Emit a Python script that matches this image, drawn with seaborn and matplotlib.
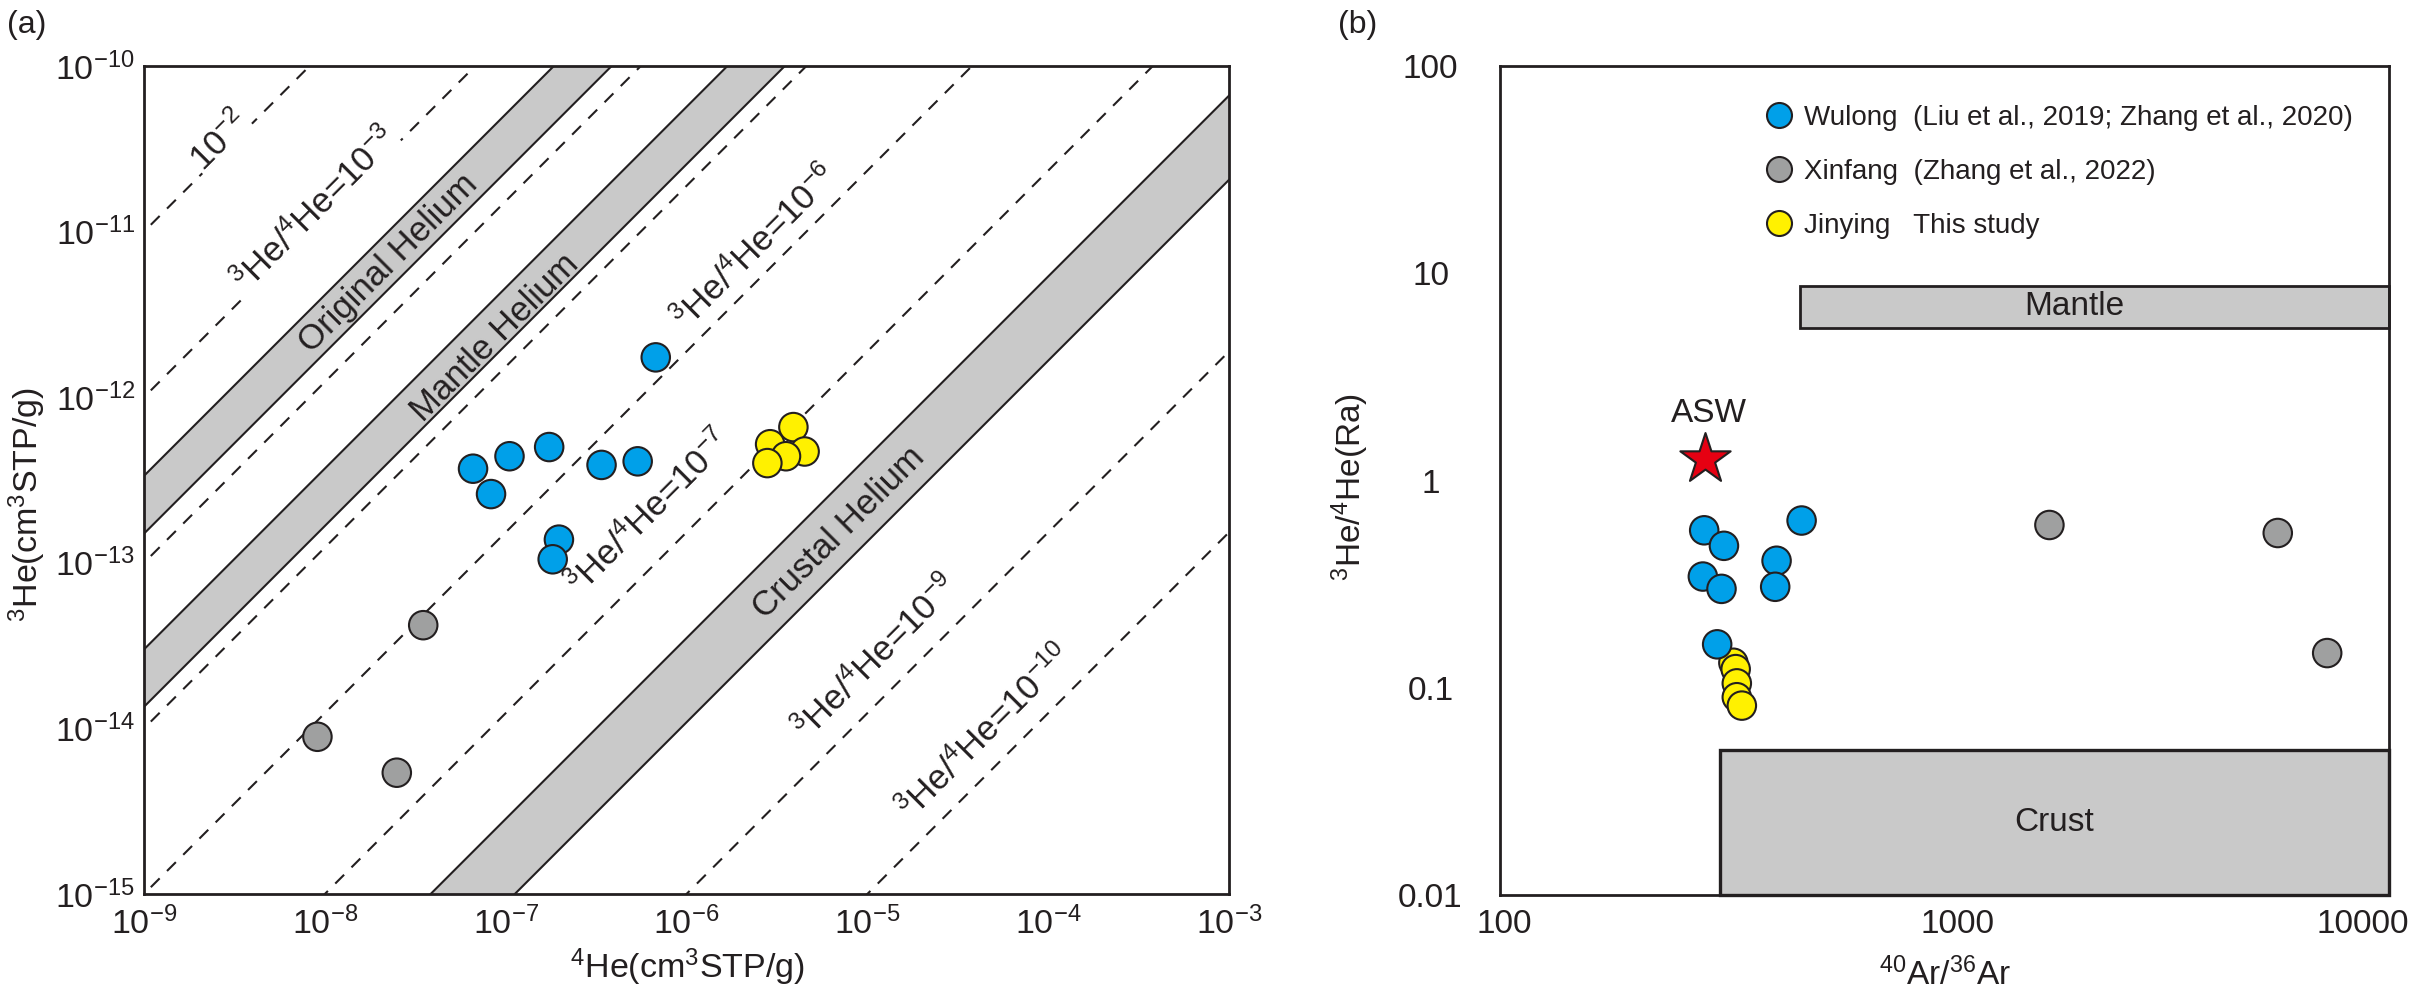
import numpy as np
import pandas as pd
import matplotlib
matplotlib.use("Agg")
import matplotlib.pyplot as plt
import seaborn as sns
from matplotlib.lines import Line2D
from matplotlib.patches import Rectangle
from matplotlib.transforms import ScaledTranslation
from matplotlib.ticker import (LogLocator, LogFormatterSciNotation, NullLocator,
                               FixedLocator, FixedFormatter)

# ---------------- data ----------------
# panel (a): 4He and 3He contents (cm3 STP/g)
wulong_he4 = [6.76e-7, 6.6e-8, 1.05e-7, 1.74e-7, 3.39e-7, 5.37e-7, 8.3e-8, 1.97e-7, 1.82e-7]
wulong_he3 = [1.74e-12, 3.7e-13, 4.4e-13, 5.0e-13, 3.9e-13, 4.1e-13, 2.6e-13, 1.38e-13, 1.05e-13]
xinfang_he4 = [3.5e-8, 9.1e-9, 2.5e-8]
xinfang_he3 = [4.2e-14, 8.9e-15, 5.4e-15]
jinying_he4 = [3.9e-6, 2.9e-6, 4.5e-6, 3.55e-6, 2.8e-6]
jinying_he3 = [6.6e-13, 5.2e-13, 4.7e-13, 4.4e-13, 4.0e-13]

# reference 3He/4He ratio lines and bands
dashed_ratios = [1e-2, 1e-3, 1e-4, 1e-5, 1e-6, 1e-7, 1e-9, 1e-10]
band_original = [1.5e-4, 3.35e-4]
band_mantle = [1.35e-5, 3.0e-5]
band_crustal = [8.9e-9, 2.6e-8]

# panel (b): 40Ar/36Ar and 3He/4He (Ra)
wulong_ar = [288, 319, 286, 315, 419, 416, 477, 308]
wulong_ra = [0.575, 0.484, 0.344, 0.30, 0.41, 0.307, 0.641, 0.162]
xinfang_ar = [1722, 5620, 7260]
xinfang_ra = [0.61, 0.558, 0.147]
jinying_ar = [335, 339, 341, 341, 350]
jinying_ra = [0.132, 0.123, 0.105, 0.090, 0.082]
asw_ar, asw_ra = [289], [1.27]
mantle_ar = [473, 10000]
mantle_ra = [5.46, 8.7]
crust_ar = [313, 10000]
crust_ra = [0.01, 0.05]

palette = {"Wulong": "#00a0e9", "Xinfang": "#9fa0a0", "Jinying": "#fff100"}
legend_order = ["Wulong", "Xinfang", "Jinying"]
legend_labels = ["Wulong  (Liu et al., 2019; Zhang et al., 2020)",
                 "Xinfang  (Zhang et al., 2022)",
                 "Jinying   This study"]

xa_ticks = [1e-9, 1e-8, 1e-7, 1e-6, 1e-5, 1e-4, 1e-3]
yb_ticks = [0.01, 0.1, 1, 10, 100]
yb_labels = ["0.01", "0.1", "1", "10", "100"]
xb_ticks = [100, 1000, 10000]
xb_labels = ["100", "1000", "10000"]
xb_label_shift_px = [4, 13, -26]   # label nudges as in the original layout

# ---------------- style ----------------
sns.set_style("white")
plt.rcParams["font.family"] = ["Liberation Sans", "DejaVu Sans"]
plt.rcParams["mathtext.fontset"] = "custom"
plt.rcParams["mathtext.rm"] = "Liberation Sans"
plt.rcParams["mathtext.it"] = "Liberation Sans:italic"
plt.rcParams["mathtext.bf"] = "Liberation Sans:bold"
plt.rcParams["mathtext.default"] = "regular"
TXT = "#231f20"
GRAY = "#c9c9c9"

W, H = 2423, 996
fig = plt.figure(figsize=(W / 100, H / 100), dpi=100)
axA = fig.add_axes([144 / W, 1 - 894 / H, 1085 / W, 828 / H])
axB = fig.add_axes([1500 / W, 1 - 895 / H, 889 / W, 829 / H])

for ax in (axA, axB):
    ax.set_xscale("log")
    ax.set_yscale("log")
    for sp in ax.spines.values():
        sp.set_visible(True)
        sp.set_color(TXT)
        sp.set_linewidth(2)
    ax.set_facecolor("white")

# ---------------- panel (a) ----------------
axA.set_xlim(1e-9, 1e-3)
axA.set_ylim(1e-15, 1e-10)
lx0, lx1 = np.log10(axA.get_xlim())
ly0, ly1 = np.log10(axA.get_ylim())
pos = axA.get_position()
px_per_xdec = pos.width * W / (lx1 - lx0)
px_per_ydec = pos.height * H / (ly1 - ly0)
k = px_per_xdec / px_per_ydec  # guide lines drawn at 45 degrees on screen

lx = np.linspace(lx0 - 0.5, lx1 + 0.5, 300)


def ratio_line(R):
    lr = np.log10(R)
    if lx0 + lr >= ly0:
        axx, ayy = lx0, lx0 + lr
    else:
        axx, ayy = ly0 - lr, ly0
    return 10 ** (ayy + k * (lx - axx))


for R in dashed_ratios:
    axA.plot(10 ** lx, ratio_line(R), color=TXT, lw=1.5, ls=(0, (6, 5)), zorder=2)
for lo, hi in (band_original, band_mantle, band_crustal):
    ylo, yhi = ratio_line(lo), ratio_line(hi)
    axA.fill_between(10 ** lx, ylo, yhi, color=GRAY, lw=0, zorder=1)
    axA.plot(10 ** lx, ylo, color=TXT, lw=1.5, zorder=2)
    axA.plot(10 ** lx, yhi, color=TXT, lw=1.5, zorder=2)

dfA = pd.DataFrame({
    "he4": jinying_he4 + wulong_he4 + xinfang_he4,
    "he3": jinying_he3 + wulong_he3 + xinfang_he3,
    "group": ["Jinying"] * len(jinying_he4) + ["Wulong"] * len(wulong_he4) + ["Xinfang"] * len(xinfang_he4),
})
sns.scatterplot(data=dfA, x="he4", y="he3", hue="group", palette=palette, s=420,
                edgecolor=TXT, linewidth=1.5, legend=False, ax=axA, zorder=5)

wbox = dict(facecolor="white", edgecolor="none", pad=1)
labelsA = [
    (r"10$^{-2}$", 10 ** -8.58, 10 ** -10.455, True),
    (r"$^{3}$He/$^{4}$He=10$^{-3}$", 10 ** -8.05, 10 ** -10.87, True),
    ("Original Helium", 10 ** -7.65, 10 ** -11.19, False),
    ("Mantle Helium", 10 ** -7.06, 10 ** -11.64, False),
    (r"$^{3}$He/$^{4}$He=10$^{-6}$", 10 ** -5.62, 10 ** -11.10, True),
    (r"$^{3}$He/$^{4}$He=10$^{-7}$", 10 ** -6.205, 10 ** -12.70, True),
    ("Crustal Helium", 10 ** -5.155, 10 ** -12.82, False),
    (r"$^{3}$He/$^{4}$He=10$^{-9}$", 10 ** -4.95, 10 ** -13.575, True),
    (r"$^{3}$He/$^{4}$He=10$^{-10}$", 10 ** -4.345, 10 ** -14.03, True),
]
for txt, x, y, box in labelsA:
    axA.text(x, y, txt, rotation=45, rotation_mode="anchor", ha="center", va="center",
             fontsize=25, color=TXT, zorder=4, bbox=wbox if box else None)

axA.xaxis.set_major_locator(FixedLocator(xa_ticks))
axA.yaxis.set_major_locator(LogLocator(base=10, numticks=20))
axA.xaxis.set_major_formatter(LogFormatterSciNotation())
axA.yaxis.set_major_formatter(LogFormatterSciNotation())
axA.xaxis.set_minor_locator(NullLocator())
axA.yaxis.set_minor_locator(NullLocator())
axA.tick_params(axis="both", which="major", direction="in", length=12, width=2,
                colors=TXT, labelsize=24.5)
axA.tick_params(axis="x", pad=9)
axA.tick_params(axis="y", pad=6.5)
axA.set_xlabel(r"$^{4}$He(cm$^{3}$STP/g)", fontsize=24.5, color=TXT)
axA.set_ylabel(r"$^{3}$He(cm$^{3}$STP/g)", fontsize=24.5, color=TXT)
axA.xaxis.set_label_coords(0.501, -0.088)
axA.xaxis.label.set_va("center")
axA.yaxis.set_label_coords(-0.108, 0.47)
axA.yaxis.label.set_va("center")

# ---------------- panel (b) ----------------
axB.set_xlim(100, 10000)
axB.set_ylim(0.01, 100)
axB.add_patch(Rectangle((mantle_ar[0], mantle_ra[0]), mantle_ar[1] - mantle_ar[0],
                        mantle_ra[1] - mantle_ra[0], facecolor=GRAY, edgecolor=TXT,
                        lw=2, zorder=1, clip_on=False))
axB.add_patch(Rectangle((crust_ar[0], crust_ra[0]), crust_ar[1] - crust_ar[0],
                        crust_ra[1] - crust_ra[0], facecolor=GRAY, edgecolor=TXT,
                        lw=2.4, zorder=1, clip_on=False))
axB.text(np.sqrt(mantle_ar[0] * mantle_ar[1]) * 0.9, np.sqrt(mantle_ra[0] * mantle_ra[1]), "Mantle",
         ha="center", va="center", fontsize=24, color=TXT, zorder=3)
axB.text(1762, 0.0224, "Crust", ha="center", va="center", fontsize=24, color=TXT, zorder=3)

dfB = pd.DataFrame({
    "ar": jinying_ar + wulong_ar + xinfang_ar,
    "ra": jinying_ra + wulong_ra + xinfang_ra,
    "group": ["Jinying"] * len(jinying_ar) + ["Wulong"] * len(wulong_ar) + ["Xinfang"] * len(xinfang_ar),
})
sns.scatterplot(data=dfB, x="ar", y="ra", hue="group", palette=palette, s=420,
                edgecolor=TXT, linewidth=1.5, legend=False, ax=axB, zorder=5)
sns.scatterplot(x=asw_ar, y=asw_ra, marker="*", s=1450, color="#e60012",
                edgecolor=TXT, linewidth=1.5, ax=axB, zorder=6, legend=False)
axB.text(asw_ar[0] * 1.02, 2.11, "ASW", ha="center", va="center", fontsize=24, color=TXT)

handles = [Line2D([], [], ls="none", marker="o", ms=18, mfc=palette[g], mec=TXT, mew=1.5)
           for g in legend_order]
leg = axB.legend(handles, legend_labels, loc="upper left", bbox_to_anchor=(0.301, 0.953),
                 frameon=False, fontsize=20, labelspacing=1.0, handletextpad=0.5,
                 handlelength=0.8, borderpad=0, borderaxespad=0)
for t in leg.get_texts():
    t.set_color(TXT)

axB.xaxis.set_major_locator(FixedLocator(xb_ticks))
axB.xaxis.set_major_formatter(FixedFormatter(xb_labels))
axB.yaxis.set_major_locator(FixedLocator(yb_ticks))
axB.yaxis.set_major_formatter(FixedFormatter(yb_labels))
axB.xaxis.set_minor_locator(NullLocator())
axB.yaxis.set_minor_locator(NullLocator())
axB.tick_params(axis="both", which="major", direction="in", length=11, width=2,
                colors=TXT, labelsize=24)
axB.tick_params(axis="x", pad=10)
axB.tick_params(axis="y", pad=50)
for lab in axB.get_yticklabels():
    lab.set_ha("center")
axB.set_xlabel(r"$^{40}$Ar/$^{36}$Ar", fontsize=24, color=TXT)
axB.set_ylabel(r"$^{3}$He/$^{4}$He(Ra)", fontsize=24, color=TXT)
axB.xaxis.set_label_coords(0.5, -0.0965)
axB.xaxis.label.set_va("center")
axB.yaxis.set_label_coords(-0.169, 0.492)
axB.yaxis.label.set_va("center")

for ax in (axA, axB):
    ax.xaxis.offsetText.set_visible(False)
    ax.yaxis.offsetText.set_visible(False)

fig.text(27 / W, 1 - 25 / H, "(a)", ha="center", va="center", fontsize=23, color=TXT)
fig.text(1358 / W, 1 - 25 / H, "(b)", ha="center", va="center", fontsize=23, color=TXT)

fig.canvas.draw()
for lab, dx in zip(axB.get_xticklabels(), xb_label_shift_px):
    lab.set_transform(lab.get_transform() + ScaledTranslation(dx / 100, 0, fig.dpi_scale_trans))

fig.savefig("out.png", dpi=100, facecolor="white")
